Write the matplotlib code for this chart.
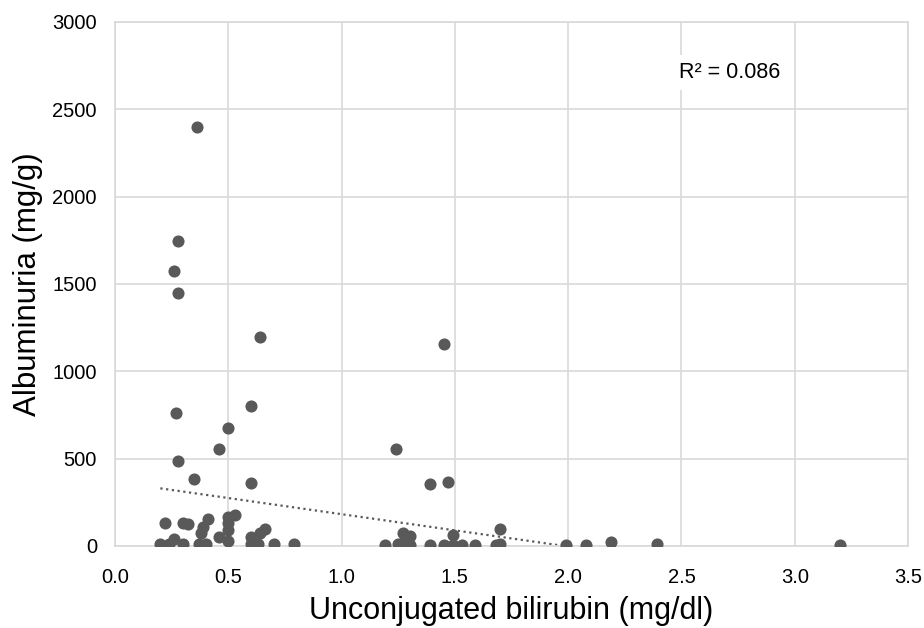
import matplotlib.pyplot as plt
import numpy as np

plt.rcParams["font.family"] = ["Liberation Sans", "DejaVu Sans"]

# unconjugated bilirubin (mg/dl) and albuminuria (mg/g)
bilirubin = [
    0.36, 0.28, 0.26, 0.28, 0.64, 1.45,
    0.27, 0.60, 0.50, 0.46, 0.28, 0.35, 0.60,
    0.22, 0.30, 0.32, 0.41, 0.39, 0.38, 0.53, 0.50, 0.50, 0.50, 0.46, 0.50,
    0.66, 0.64, 0.60,
    0.20, 0.24, 0.26, 0.30, 0.37, 0.40, 0.60, 0.63, 0.70, 0.79,
    1.24, 1.39, 1.47, 1.27, 1.30, 1.49, 1.70,
    1.19, 1.25, 1.27, 1.30, 1.39, 1.45, 1.49, 1.53, 1.59, 1.68, 1.70,
    1.99, 2.08, 2.19, 2.39, 3.20,
]
albuminuria = [
    2400, 1745, 1575, 1450, 1195, 1155,
    763, 800, 675, 555, 485, 383, 361,
    133, 130, 124, 155, 110, 76, 178, 168, 130, 90, 50, 29,
    99, 73, 50,
    10, 12, 40, 12, 10, 10, 12, 10, 10, 10,
    553, 353, 365, 75, 55, 63, 95,
    8, 10, 15, 8, 8, 8, 8, 8, 8, 8, 10,
    6, 6, 25, 11, 6,
]

# linear trendline as shown in the chart
trend_slope = -185.0
trend_intercept = 367.0
r2_label = "R² = 0.086"

x = np.array(bilirubin)
y = np.array(albuminuria)

fig = plt.figure(figsize=(9.24, 6.28), dpi=100)
ax = fig.add_axes([0.1245, 0.1306, 0.8582, 0.8344])

ax.scatter(x, y, s=76, color="#595959", zorder=3, linewidths=0)

xt = np.linspace(x.min(), x.max(), 200)
ax.plot(xt, trend_slope * xt + trend_intercept, linestyle=(0, (1, 1.6)),
        color="#595959", linewidth=1.6, zorder=2)

ax.text(2.49, 2710, r2_label, fontsize=15.5, va="center", ha="left",
        bbox=dict(facecolor="white", edgecolor="none", pad=5), zorder=4)

ax.set_xlim(0, 3.5)
ax.set_ylim(0, 3000)
xticks = np.arange(0, 3.51, 0.5)
ax.set_xticks(xticks)
ax.set_xticklabels([f"{v:.1f}" for v in xticks])
ax.set_yticks(np.arange(0, 3001, 500))
ax.tick_params(length=0, labelsize=14.5, colors="#000000")
ax.tick_params(axis="x", pad=16)
ax.tick_params(axis="y", pad=13)
ax.grid(color="#d9d9d9", linewidth=1.2, zorder=0)
ax.set_axisbelow(True)
for sp in ax.spines.values():
    sp.set_color("#d9d9d9")
    sp.set_linewidth(1.2)

ax.set_xlabel("Unconjugated bilirubin (mg/dl)", fontsize=22, labelpad=6)
ax.set_ylabel("Albuminuria (mg/g)", fontsize=22.5, labelpad=7)

fig.savefig("out.png", dpi=100)
